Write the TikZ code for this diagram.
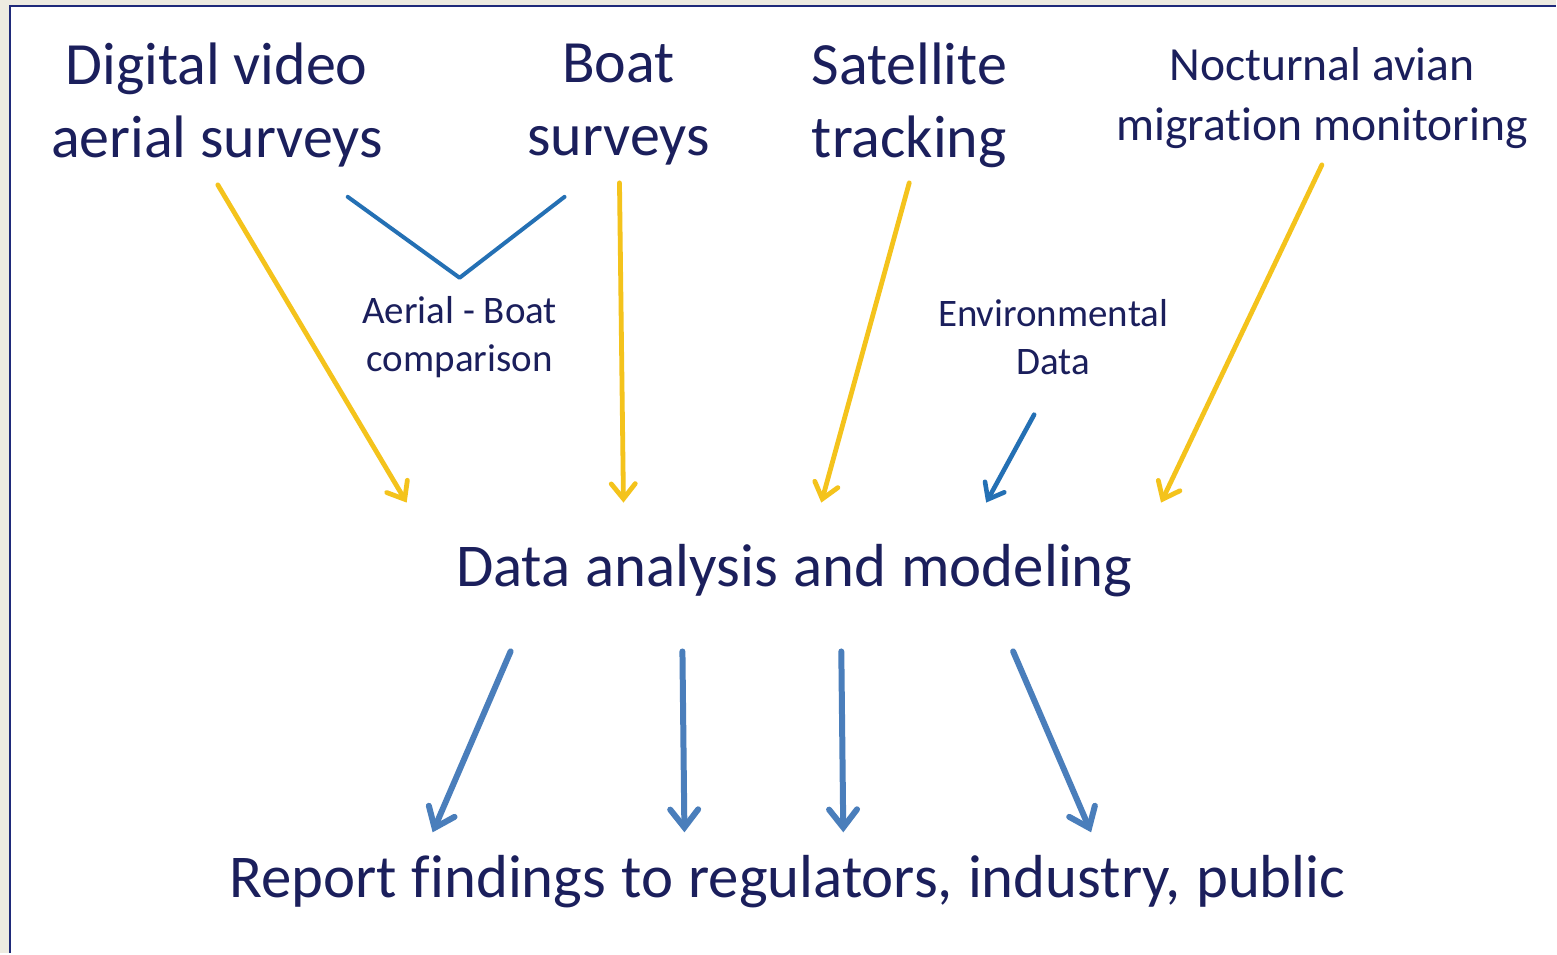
\documentclass[tikz,border=0pt]{standalone}
\usepackage{fontspec}
\setmainfont{Carlito}[Ligatures=NoCommon]
\usetikzlibrary{arrows.meta}
\definecolor{bgbeige}{HTML}{EDEBE1}
\definecolor{frame}{HTML}{1F2A7A}
\definecolor{ink}{HTML}{1B1F5C}
\definecolor{gold}{HTML}{F4C31C}
\definecolor{vblue}{HTML}{2470B4}
\definecolor{steel}{HTML}{4A7EBB}
\newcommand\widewords{\spaceskip=0.25em plus 0.1em\relax}
\tikzset{
  big/.style={font=\fontsize{30}{36.5}\selectfont, text=ink, align=center, inner sep=0pt},
  wide/.style={font=\fontsize{30.4}{36.5}\selectfont\widewords, text=ink, align=center, inner sep=0pt},
  mid/.style={font=\fontsize{23.8}{30}\selectfont, text=ink, align=center, inner sep=0pt},
  small/.style={font=\fontsize{19.5}{24}\selectfont, text=ink, align=center, inner sep=0pt},
  feed/.style={draw=gold, line width=2.4pt, line cap=round,
    -{Straight Barb[length=7.5pt, width=12pt, line cap=round]}},
  envarrow/.style={draw=vblue, line width=2.3pt, line cap=round,
    -{Straight Barb[length=7pt, width=11pt, line cap=round]}},
  outarrow/.style={draw=steel, line width=3pt, line cap=round,
    -{Straight Barb[length=9pt, width=14pt, line cap=round]}},
}
\begin{document}
\begin{tikzpicture}[x=0.5pt, y=-0.5pt]
  % page background and framed panel
  \fill[bgbeige] (0,0) rectangle (1557,954);
  \fill[white] (10,6) rectangle (1557,954);
  \draw[frame, line width=1.3pt] (10,954) -- (10,6) -- (1557,6);
  \useasboundingbox (0,0) rectangle (1557,954);

  % data sources
  \node[big] (dv)   at (217,105) {Digital video\\aerial surveys};
  \node[big] (boat) at (619,105) {Boat\\surveys};
  \node[big] (sat)  at (910,105) {Satellite\\tracking};
  \node[mid] (noc)  at (1323,98) {Nocturnal avian\\migration monitoring};
  \node[small] (cmp) at (460,337) {Aerial - Boat\\comparison};
  \node[small] (env) at (1054,337) {Environmental\\Data};

  % central step and outcome
  \node[wide] (dam) at (795,571) {Data analysis and modeling};
  \node[wide] (rep) at (788,882) {Report findings to regulators, industry, public};

  % arrow anchors
  \coordinate (dvs) at (218,185);   \coordinate (dvt) at (407,503);
  \coordinate (bs)  at (620,183);   \coordinate (bt)  at (624,503);
  \coordinate (ss)  at (910,183);   \coordinate (st)  at (822,503);
  \coordinate (ns)  at (1323,165);  \coordinate (nt)  at (1162,503);
  \coordinate (es)  at (1035,415);  \coordinate (et)  at (987,503);
  \coordinate (va)  at (348,197);   \coordinate (vm)  at (460,278);
  \coordinate (vb)  at (565,197);
  \coordinate (o1s) at (511,652);   \coordinate (o1t) at (433,833);
  \coordinate (o2s) at (683,652);   \coordinate (o2t) at (685,833);
  \coordinate (o3s) at (842,652);   \coordinate (o3t) at (844,833);
  \coordinate (o4s) at (1014,652);  \coordinate (o4t) at (1092,833);

  % inputs to the analysis
  \draw[feed] (dvs) -- (dvt);
  \draw[feed] (bs) -- (bt);
  \draw[feed] (ss) -- (st);
  \draw[feed] (ns) -- (nt);
  \draw[envarrow] (es) -- (et);

  % aerial/boat comparison bracket
  \draw[vblue, line width=2pt, line cap=round, line join=round] (va) -- (vm) -- (vb);

  % outputs of the analysis
  \draw[outarrow] (o1s) -- (o1t);
  \draw[outarrow] (o2s) -- (o2t);
  \draw[outarrow] (o3s) -- (o3t);
  \draw[outarrow] (o4s) -- (o4t);
\end{tikzpicture}
\end{document}
